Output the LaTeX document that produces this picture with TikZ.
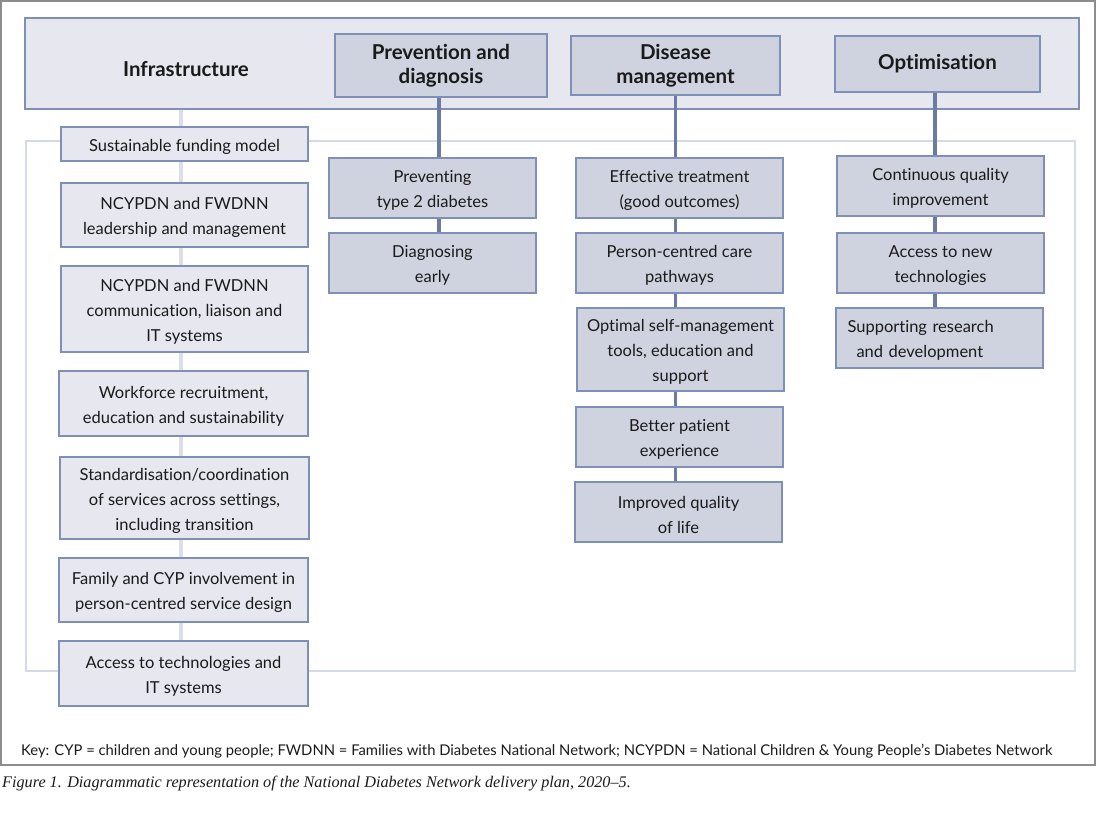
\documentclass[tikz,border=0pt]{standalone}
\usepackage{fontspec}
\setmainfont{Lato}[Ligatures=NoCommon]
\newfontfamily\capfont{Liberation Serif}
\pgfdeclarelayer{conn}
\pgfdeclarelayer{background}
\pgfsetlayers{background,conn,main}
\definecolor{bandfill}{HTML}{E6E7EF}
\definecolor{boxfill}{HTML}{CFD3E0}
\definecolor{boxline}{HTML}{7F8FB5}
\definecolor{darkconn}{HTML}{6B7BA3}
\definecolor{lightconn}{HTML}{DCDFE9}
\definecolor{framegray}{HTML}{8C8C8C}
\definecolor{innerline}{HTML}{D6DAE6}
\definecolor{txt}{HTML}{1A1A1A}
\tikzset{
  leftbox/.style={draw=boxline, fill=bandfill, line width=1.1pt, inner sep=0pt},
  rightbox/.style={leftbox, fill=boxfill},
  bodytext/.style={align=center, inner sep=0pt, font=\fontsize{16.5}{25}\selectfont, text=txt},
  headtext/.style={align=center, inner sep=0pt, yshift=2.5pt, font=\fontsize{20.5}{24}\selectfont\bfseries, text=txt},
  darkline/.style={draw=darkconn, line width=3.6pt},
  lightline/.style={draw=lightconn, line width=4pt},
}
% #1 style, #2 width, #3 height, #4 name, #5 centre, #6 text style, #7 text
\newcommand\mybox[7]{%
  \node[#1, minimum width=#2pt, minimum height=#3pt] (#4) at (#5) {};
  \node[#6] (#4t) at ([yshift=-2.5pt]#4.center) {#7};}
\begin{document}
\begin{tikzpicture}[x=1pt,y=-1pt]
\useasboundingbox (0,0) rectangle (1097,816);
% frames
\begin{pgfonlayer}{background}
\draw[framegray, line width=1.3pt] (1,1) rectangle (1095,765);
\node[draw=boxline, fill=bandfill, line width=1.1pt, minimum width=1054pt, minimum height=91pt, inner sep=0pt] (band) at (552,63.5) {};
\draw[innerline, line width=2pt] (26,141) rectangle (1075,671);
\end{pgfonlayer}
% headers
\node[headtext] (infra) at (186,72) {Infrastructure};
\mybox{rightbox}{212}{63}{PH}{441,65.5}{headtext}{Prevention and\\diagnosis}
\mybox{rightbox}{209}{59}{DH}{675.5,65.5}{headtext}{Disease\\management}
\mybox{rightbox}{205}{56}{OH}{937.5,64}{headtext}{Optimisation}
% left column
\mybox{leftbox}{247}{34}{L1}{184.5,144}{bodytext}{Sustainable funding model}
\mybox{leftbox}{247}{64}{L2}{184.5,215}{bodytext}{NCYPDN and FWDNN\\leadership and management}
\mybox{leftbox}{247}{86}{L3}{184.5,309}{bodytext}{NCYPDN and FWDNN\\communication, liaison and\\IT systems}
\mybox{leftbox}{249}{65}{L4}{183.5,403.5}{bodytext}{Workforce recruitment,\\education and sustainability}
\mybox{leftbox}{249}{82}{L5}{184.5,498}{bodytext}{Standardisation/coordination\\of services across settings,\\including transition}
\mybox{leftbox}{249}{64}{L6}{183.5,590}{bodytext}{Family and CYP involvement in\\person-centred service design}
\mybox{leftbox}{249}{65}{L7}{183.5,673.5}{bodytext}{Access to technologies and\\IT systems}
% prevention column
\mybox{rightbox}{207}{60}{P1}{432.5,188}{bodytext}{Preventing\\type 2 diabetes}
\mybox{rightbox}{207}{60}{P2}{432.5,263}{bodytext}{Diagnosing\\early}
% disease column
\mybox{rightbox}{207}{60}{D1}{679.5,188}{bodytext}{Effective treatment\\(good outcomes)}
\mybox{rightbox}{207}{60}{D2}{679.5,263}{bodytext}{Person-centred care\\pathways}
\mybox{rightbox}{207}{83}{D3}{680.5,349.5}{bodytext}{Optimal self-management\\tools, education and\\support}
\mybox{rightbox}{207}{60}{D4}{679.5,437}{bodytext}{Better patient\\experience}
\mybox{rightbox}{207}{60}{D5}{678.5,512}{bodytext}{Improved quality\\of life}
% optimisation column
\mybox{rightbox}{207}{60}{O1}{940.5,186}{bodytext}{Continuous quality\\improvement}
\mybox{rightbox}{207}{60}{O2}{940.5,263}{bodytext}{Access to new\\technologies}
\mybox{rightbox}{207}{60}{O3}{939.5,338}{bodytext, text width=180pt, align=left}{\hspace*{-2pt}Supporting research\\\hspace*{7pt}and development}
% connectors
\begin{pgfonlayer}{conn}
\draw[lightline] ([xshift=-3.5pt]L1.center |- band.south) -- ([xshift=-2.5pt]L7.center);
\draw[darkline] ([xshift=-2pt]PH.south) -- ([xshift=-2pt]PH.south |- P2.north);
\draw[darkline] (DH.south) -- (DH.south |- D5.north);
\draw[darkline] ([xshift=-2.5pt]OH.south) -- ([xshift=-2.5pt]OH.south |- O3.north);
\end{pgfonlayer}
% key and caption
\node[anchor=base west, inner sep=0pt, font=\fontsize{14.8}{16}\selectfont, text=txt] (key) at (21,755) {Key: CYP = children and young people; FWDNN = Families with Diabetes National Network; NCYPDN = National Children \& Young People’s Diabetes Network};
\node[anchor=base west, inner sep=0pt, font=\capfont\itshape\fontsize{16.2}{18}\selectfont, text=txt] (cap) at (2,787) {Figure 1. Diagrammatic representation of the National Diabetes Network delivery plan, 2020–5.};
\end{tikzpicture}
\end{document}
